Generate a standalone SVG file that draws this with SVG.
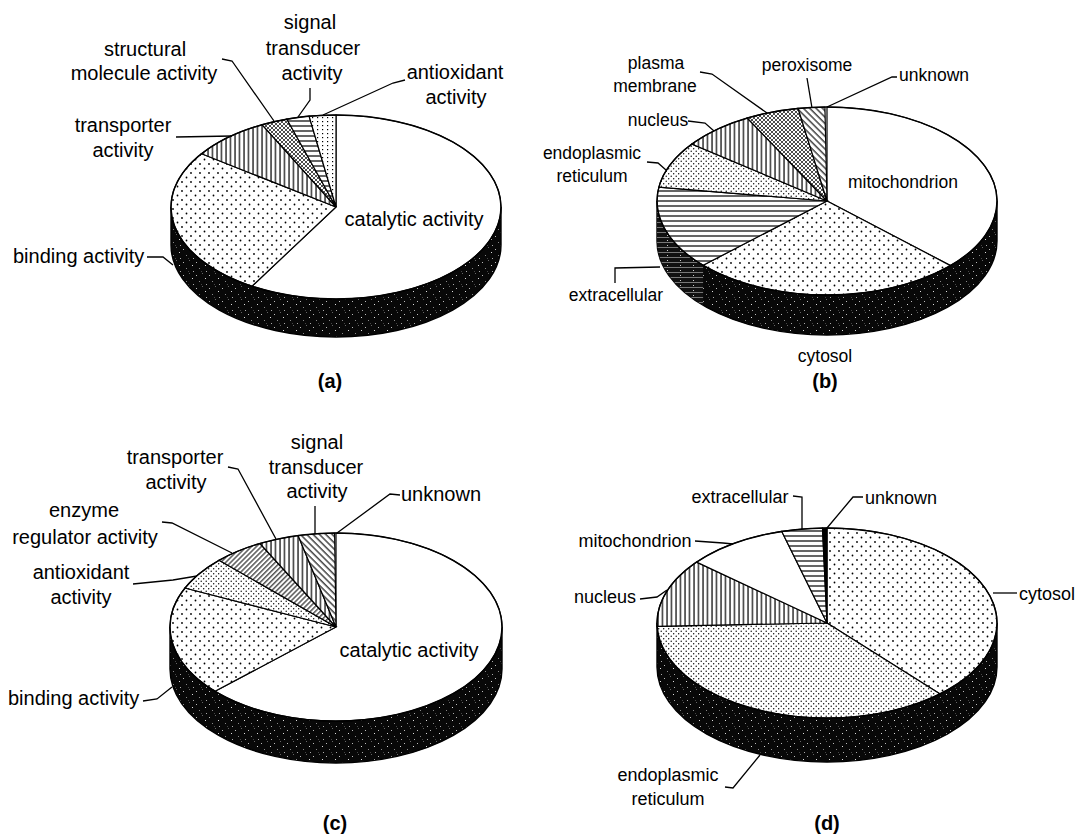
<svg xmlns="http://www.w3.org/2000/svg" width="1082" height="839" viewBox="0 0 1082 839">
<style>
text{font-family:"Liberation Sans",Arial,sans-serif;fill:#000}
.la{font-size:20px}
.lb{font-size:17.5px}
.ld{font-size:18px}
.cap{font-size:20px;font-weight:bold}
.m{text-anchor:middle}
.edge{fill:none;stroke:#000;stroke-width:1.4}
.sl{stroke:#000;stroke-width:1.2}
.side{fill:url(#speck);stroke:#000;stroke-width:1.4}
.lead{fill:none;stroke:#000;stroke-width:1.3}
</style>
<defs>
<pattern id="speck" width="13" height="13" patternUnits="userSpaceOnUse"><rect width="13" height="13" fill="#080808"/><rect x="1" y="2" width="1" height="1" fill="#bbb"/><rect x="7" y="0" width="1" height="1" fill="#666"/><rect x="10" y="5" width="1" height="1" fill="#ddd"/><rect x="4" y="8" width="1" height="1" fill="#888"/><rect x="11" y="11" width="1" height="1" fill="#aaa"/><rect x="6" y="11" width="1" height="1" fill="#444"/></pattern>
<pattern id="darkhor" width="13" height="5" patternUnits="userSpaceOnUse"><rect width="13" height="5" fill="#111"/><rect x="0" y="2" width="13" height="1" fill="#777"/><rect x="4" y="0" width="1" height="1" fill="#ccc"/></pattern>
<pattern id="dots" width="9" height="9" patternUnits="userSpaceOnUse"><rect width="9" height="9" fill="#fff"/><circle cx="2" cy="2" r="0.9"/><circle cx="6.5" cy="6.5" r="0.9"/></pattern>
<pattern id="fdots" width="5" height="5" patternUnits="userSpaceOnUse"><rect width="5" height="5" fill="#fff"/><circle cx="1.2" cy="1.2" r="0.7"/><circle cx="3.7" cy="3.7" r="0.7"/></pattern>
<pattern id="vdots" width="5" height="4" patternUnits="userSpaceOnUse"><rect width="5" height="4" fill="#fff"/><rect x="2" y="1" width="1.2" height="1.2"/></pattern>
<pattern id="vert" width="4.5" height="10" patternUnits="userSpaceOnUse"><rect width="4.5" height="10" fill="#fff"/><line x1="1" y1="0" x2="1" y2="10" stroke="#000" stroke-width="1.2"/></pattern>
<pattern id="hor" width="10" height="5" patternUnits="userSpaceOnUse"><rect width="10" height="5" fill="#fff"/><line x1="0" y1="1" x2="10" y2="1" stroke="#000" stroke-width="1.2"/></pattern>
<pattern id="cross" width="4" height="4" patternUnits="userSpaceOnUse"><rect width="4" height="4" fill="#fff"/><path d="M0,0L4,4M4,0L0,4" stroke="#000" stroke-width="0.7"/></pattern>
<pattern id="diag" width="3.5" height="3.5" patternUnits="userSpaceOnUse" patternTransform="rotate(45)"><rect width="3.5" height="3.5" fill="#fff"/><line x1="0.8" y1="0" x2="0.8" y2="3.5" stroke="#000" stroke-width="1"/></pattern>
<pattern id="bdiag" width="4.5" height="4.5" patternUnits="userSpaceOnUse" patternTransform="rotate(-45)"><rect width="4.5" height="4.5" fill="#fff"/><line x1="1" y1="0" x2="1" y2="4.5" stroke="#000" stroke-width="1.1"/></pattern>
</defs>
<rect width="1082" height="839" fill="#fff"/>

<g id="chart-a">
<path class="side" d="M171,207 A165,92 0 0 0 501,207 L501,245 A165,92 0 0 1 171,245 Z"/>
<path id="a-catalytic" class="sl" fill="#fff" d="M336,207 L336,115 A165,92 0 1 1 252.0,286.2 Z"/>
<path id="a-binding" class="sl" fill="url(#dots)" d="M336,207 L252.0,286.2 A165,92 0 0 1 201.5,153.7 Z"/>
<path id="a-transporter" class="sl" fill="url(#vert)" d="M336,207 L201.5,153.7 A165,92 0 0 1 262.1,124.7 Z"/>
<path id="a-structural" class="sl" fill="url(#cross)" d="M336,207 L262.1,124.7 A165,92 0 0 1 286.9,119.2 Z"/>
<path id="a-signal" class="sl" fill="url(#hor)" d="M336,207 L286.9,119.2 A165,92 0 0 1 309.1,116.2 Z"/>
<path id="a-antioxidant" class="sl" fill="url(#vdots)" d="M336,207 L309.1,116.2 A165,92 0 0 1 336,115 Z"/>
<ellipse class="edge" cx="336" cy="207" rx="165" ry="92"/>
<text class="la m" x="145" y="56">structural</text>
<text class="la m" x="144" y="80">molecule activity</text>
<text class="la m" x="310" y="29">signal</text>
<text class="la m" x="313" y="55">transducer</text>
<text class="la m" x="312" y="80">activity</text>
<text class="la m" x="455" y="79">antioxidant</text>
<text class="la m" x="456" y="104">activity</text>
<text class="la m" x="123" y="132">transporter</text>
<text class="la m" x="123" y="157">activity</text>
<text class="la m" x="414" y="226">catalytic activity</text>
<text class="la" x="13" y="263">binding activity</text>
<text class="cap m" x="330" y="388">(a)</text>
</g>

<g id="chart-b">
<path class="side" d="M657,201 A170,94 0 0 0 997,201 L997,241 A170,94 0 0 1 657,241 Z"/>
<path fill="url(#darkhor)" d="M657,201 A170,94 0 0 0 703.1,265.3 L703.1,305.3 A170,94 0 0 1 657,241 Z"/>
<path id="b-mito" class="sl" fill="#fff" d="M827,201 L827,107 A170,94 0 0 1 950.5,265.6 Z"/>
<path id="b-cytosol" class="sl" fill="url(#dots)" d="M827,201 L950.5,265.6 A170,94 0 0 1 703.1,265.3 Z"/>
<path id="b-extracellular" class="sl" fill="url(#hor)" d="M827,201 L703.1,265.3 A170,94 0 0 1 658.9,187.1 Z"/>
<path id="b-er" class="sl" fill="url(#fdots)" d="M827,201 L658.9,187.1 A170,94 0 0 1 691.8,144.0 Z"/>
<path id="b-nucleus" class="sl" fill="url(#vert)" d="M827,201 L691.8,144.0 A170,94 0 0 1 747.2,118.0 Z"/>
<path id="b-plasma" class="sl" fill="url(#cross)" d="M827,201 L747.2,118.0 A170,94 0 0 1 798.1,108.4 Z"/>
<path id="b-peroxisome" class="sl" fill="url(#bdiag)" d="M827,201 L798.1,108.4 A170,94 0 0 1 824.9,107.0 Z"/>
<ellipse class="edge" cx="827" cy="201" rx="170" ry="94"/>
<text class="lb m" x="656" y="69">plasma</text>
<text class="lb m" x="655" y="92">membrane</text>
<text class="lb m" x="807" y="71">peroxisome</text>
<text class="lb" x="899" y="81">unknown</text>
<text class="lb m" x="658" y="126">nucleus</text>
<text class="lb m" x="592" y="159">endoplasmic</text>
<text class="lb m" x="592" y="182">reticulum</text>
<text class="lb m" x="903" y="188">mitochondrion</text>
<text class="lb m" x="616" y="301">extracellular</text>
<text class="lb m" x="825" y="362">cytosol</text>
<text class="cap m" x="825" y="388">(b)</text>
</g>

<g id="chart-c">
<path class="side" d="M170,627 A166,94 0 0 0 502,627 L502,669 A166,94 0 0 1 170,669 Z"/>
<path id="c-catalytic" class="sl" fill="#fff" d="M336,627 L336,533 A166,94 0 1 1 215.0,691.3 Z"/>
<path id="c-binding" class="sl" fill="url(#dots)" d="M336,627 L215.0,691.3 A166,94 0 0 1 184.9,588.0 Z"/>
<path id="c-antioxidant" class="sl" fill="url(#fdots)" d="M336,627 L184.9,588.0 A166,94 0 0 1 219.0,560.3 Z"/>
<path id="c-enzyme" class="sl" fill="url(#diag)" d="M336,627 L219.0,560.3 A166,94 0 0 1 259.9,543.5 Z"/>
<path id="c-transporter" class="sl" fill="url(#vert)" d="M336,627 L259.9,543.5 A166,94 0 0 1 298.1,535.5 Z"/>
<path id="c-signal" class="sl" fill="url(#bdiag)" d="M336,627 L298.1,535.5 A166,94 0 0 1 334.6,533.0 Z"/>
<ellipse class="edge" cx="336" cy="627" rx="166" ry="94"/>
<text class="la m" x="317" y="449">signal</text>
<text class="la m" x="316" y="474">transducer</text>
<text class="la m" x="317" y="498">activity</text>
<text class="la m" x="441" y="501">unknown</text>
<text class="la m" x="175" y="464">transporter</text>
<text class="la m" x="176" y="489">activity</text>
<text class="la m" x="84" y="517">enzyme</text>
<text class="la m" x="85" y="544">regulator activity</text>
<text class="la m" x="81" y="579">antioxidant</text>
<text class="la m" x="81" y="604">activity</text>
<text class="la" x="8" y="705">binding activity</text>
<text class="la m" x="409" y="657">catalytic activity</text>
<text class="cap m" x="335" y="830">(c)</text>
</g>

<g id="chart-d">
<path class="side" d="M657,623 A170,95 0 0 0 997,623 L997,667 A170,95 0 0 1 657,667 Z"/>
<path id="d-cytosol" class="sl" fill="url(#dots)" d="M827,623 L827,528 A170,95 0 0 1 940.1,693.9 Z"/>
<path id="d-er" class="sl" fill="url(#fdots)" d="M827,623 L940.1,693.9 A170,95 0 0 1 657.1,626.3 Z"/>
<path id="d-nucleus" class="sl" fill="url(#vert)" d="M827,623 L657.1,626.3 A170,95 0 0 1 696.6,562.1 Z"/>
<path id="d-mito" class="sl" fill="#fff" d="M827,623 L696.6,562.1 A170,95 0 0 1 781.8,531.4 Z"/>
<path id="d-extracellular" class="sl" fill="url(#hor)" d="M827,623 L781.8,531.4 A170,95 0 0 1 822.5,528.0 Z"/>
<path id="d-unknown" class="sl" fill="#000" d="M827,623 L822.5,528.0 A170,95 0 0 1 827,528 Z"/>
<ellipse class="edge" cx="827" cy="623" rx="170" ry="95"/>
<text class="ld m" x="740" y="503">extracellular</text>
<text class="ld m" x="901" y="504">unknown</text>
<text class="ld m" x="635" y="547">mitochondrion</text>
<text class="ld m" x="605" y="603">nucleus</text>
<text class="ld" x="1019" y="600">cytosol</text>
<text class="ld m" x="668" y="781">endoplasmic</text>
<text class="ld m" x="668" y="805">reticulum</text>
<text class="cap m" x="827" y="830">(d)</text>
</g>

<g id="connectors">
<polyline class="lead" points="222,59 232,61 274,121"/>
<polyline class="lead" points="176,137 232,136"/>
<polyline class="lead" points="310,88 310,100 298,117"/>
<polyline class="lead" points="405,80 393,83 323,115"/>
<polyline class="lead" points="147,257 163,257 173,265"/>
<polyline class="lead" points="700,72 712,74 767,113"/>
<polyline class="lead" points="807,78 812,108"/>
<polyline class="lead" points="897,77 892,77 827,107"/>
<polyline class="lead" points="688,121 705,123 714,131"/>
<polyline class="lead" points="647,162 658,163 666,170"/>
<polyline class="lead" points="615,283 615,268 660,267"/>
<polyline class="lead" points="315,506 315,534"/>
<polyline class="lead" points="400,495 390,494 337,533"/>
<polyline class="lead" points="228,467 238,469 276,539"/>
<polyline class="lead" points="162,522 172,523 232,553"/>
<polyline class="lead" points="133,584 173,580 197,576"/>
<polyline class="lead" points="143,701 157,699 172,687"/>
<polyline class="lead" points="793,496 802,497 802,529"/>
<polyline class="lead" points="863,497 853,497 827,528"/>
<polyline class="lead" points="695,541 723,543 733,544"/>
<polyline class="lead" points="640,599 657,597 667,590"/>
<polyline class="lead" points="993,593 1017,593"/>
<polyline class="lead" points="725,787 733,788 760,755"/>
</g>
</svg>
